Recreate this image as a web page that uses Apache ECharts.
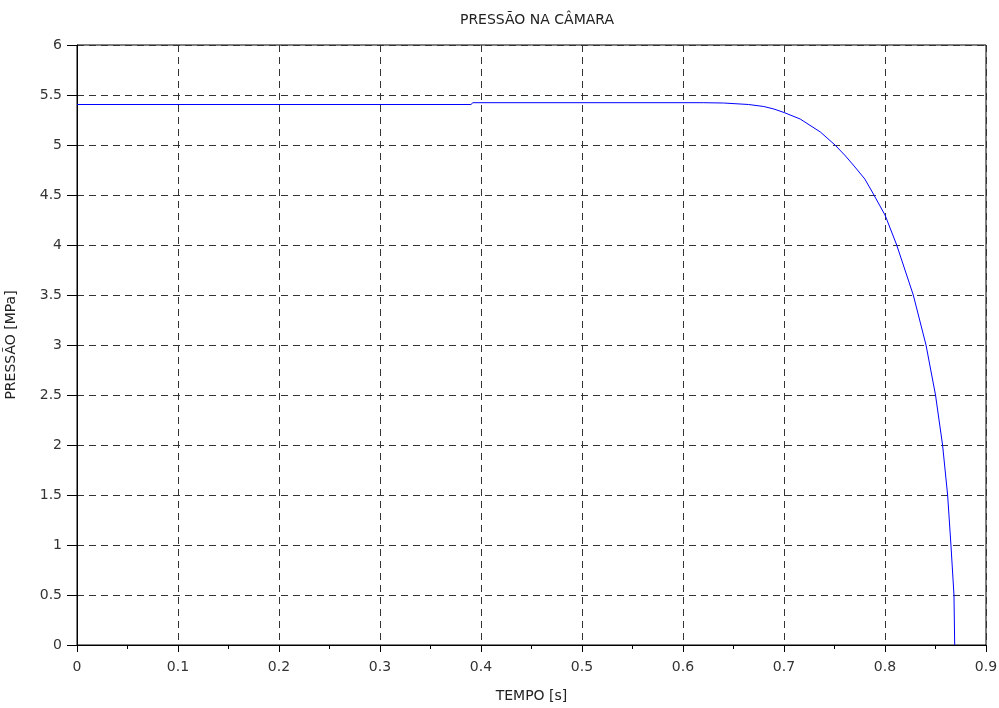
<!DOCTYPE html>
<html>
<head>
<meta charset="utf-8">
<script src="https://cdn.jsdelivr.net/npm/echarts@6/dist/echarts.min.js"></script>
<style>
  html, body { margin: 0; padding: 0; background: #fff; }
  #chart { width: 999px; height: 708px; }
</style>
</head>
<body>
<div id="chart"></div>
<script>
// valores
const tempo = [0, 0.39, 0.392, 0.62, 0.64, 0.665, 0.68, 0.69, 0.70, 0.716, 0.736, 0.7505, 0.76, 0.7686, 0.780, 0.7874, 0.80, 0.8116, 0.828, 0.8406, 0.850, 0.857, 0.862, 0.8653, 0.8683, 0.869];
const pressao = [5.405, 5.405, 5.423, 5.423, 5.42, 5.405, 5.385, 5.36, 5.325, 5.26, 5.13, 5.00, 4.90, 4.80, 4.66, 4.53, 4.30, 4.00, 3.50, 3.00, 2.50, 2.00, 1.50, 1.00, 0.50, 0];

const fonte = 'DejaVu Sans, sans-serif';
const chart = echarts.init(document.getElementById('chart'), null, { renderer: 'canvas' });

const gridDash = { show: true, lineStyle: { color: '#333', type: [7, 5], width: 1 } };

const option = {
  animation: false,
  title: {
    text: 'PRESSÃO NA CÂMARA',
    left: 532,
    textAlign: 'center',
    top: 8,
    textStyle: { fontFamily: fonte, fontSize: 14, fontWeight: 'normal', color: '#222' }
  },
  grid: {
    left: 77, top: 45, width: 909, height: 600,
    outerBoundsMode: 'none',
    containLabel: false,
    show: true, borderColor: '#000', borderWidth: 1, backgroundColor: 'transparent'
  },
  xAxis: {
    type: 'value',
    min: 0, max: 0.9, interval: 0.1,
    name: 'TEMPO [s]',
    nameLocation: 'middle',
    nameGap: 44,
    nameTextStyle: { fontFamily: fonte, fontSize: 14, color: '#222' },
    axisLine: { show: true, onZero: false, lineStyle: { color: '#000', width: 1 } },
    axisTick: { show: true, inside: false, length: 7, lineStyle: { color: '#000' } },
    minorTick: { show: true, splitNumber: 2, length: 4, lineStyle: { color: '#000' } },
    axisLabel: { margin: 15, fontFamily: fonte, fontSize: 14, color: '#333',
      formatter: v => (Math.round(v * 10) / 10).toString() },
    splitLine: gridDash
  },
  yAxis: {
    type: 'value',
    min: 0, max: 6, interval: 0.5,
    name: 'PRESSÃO [MPa]',
    nameLocation: 'middle',
    nameGap: 59,
    nameTextStyle: { fontFamily: fonte, fontSize: 14, color: '#222' },
    axisLine: { show: true, onZero: false, lineStyle: { color: '#000', width: 1 } },
    axisTick: { show: true, inside: false, length: 10, lineStyle: { color: '#000' } },
    axisLabel: { margin: 15, fontFamily: fonte, fontSize: 14, color: '#333' },
    splitLine: gridDash
  },
  series: [{
    type: 'line',
    data: tempo.map((t, i) => [t, pressao[i]]),
    showSymbol: false,
    smooth: false,
    lineStyle: { color: '#0000ff', width: 1 },
    z: 5
  }]
};
chart.setOption(option);
</script>
</body>
</html>
